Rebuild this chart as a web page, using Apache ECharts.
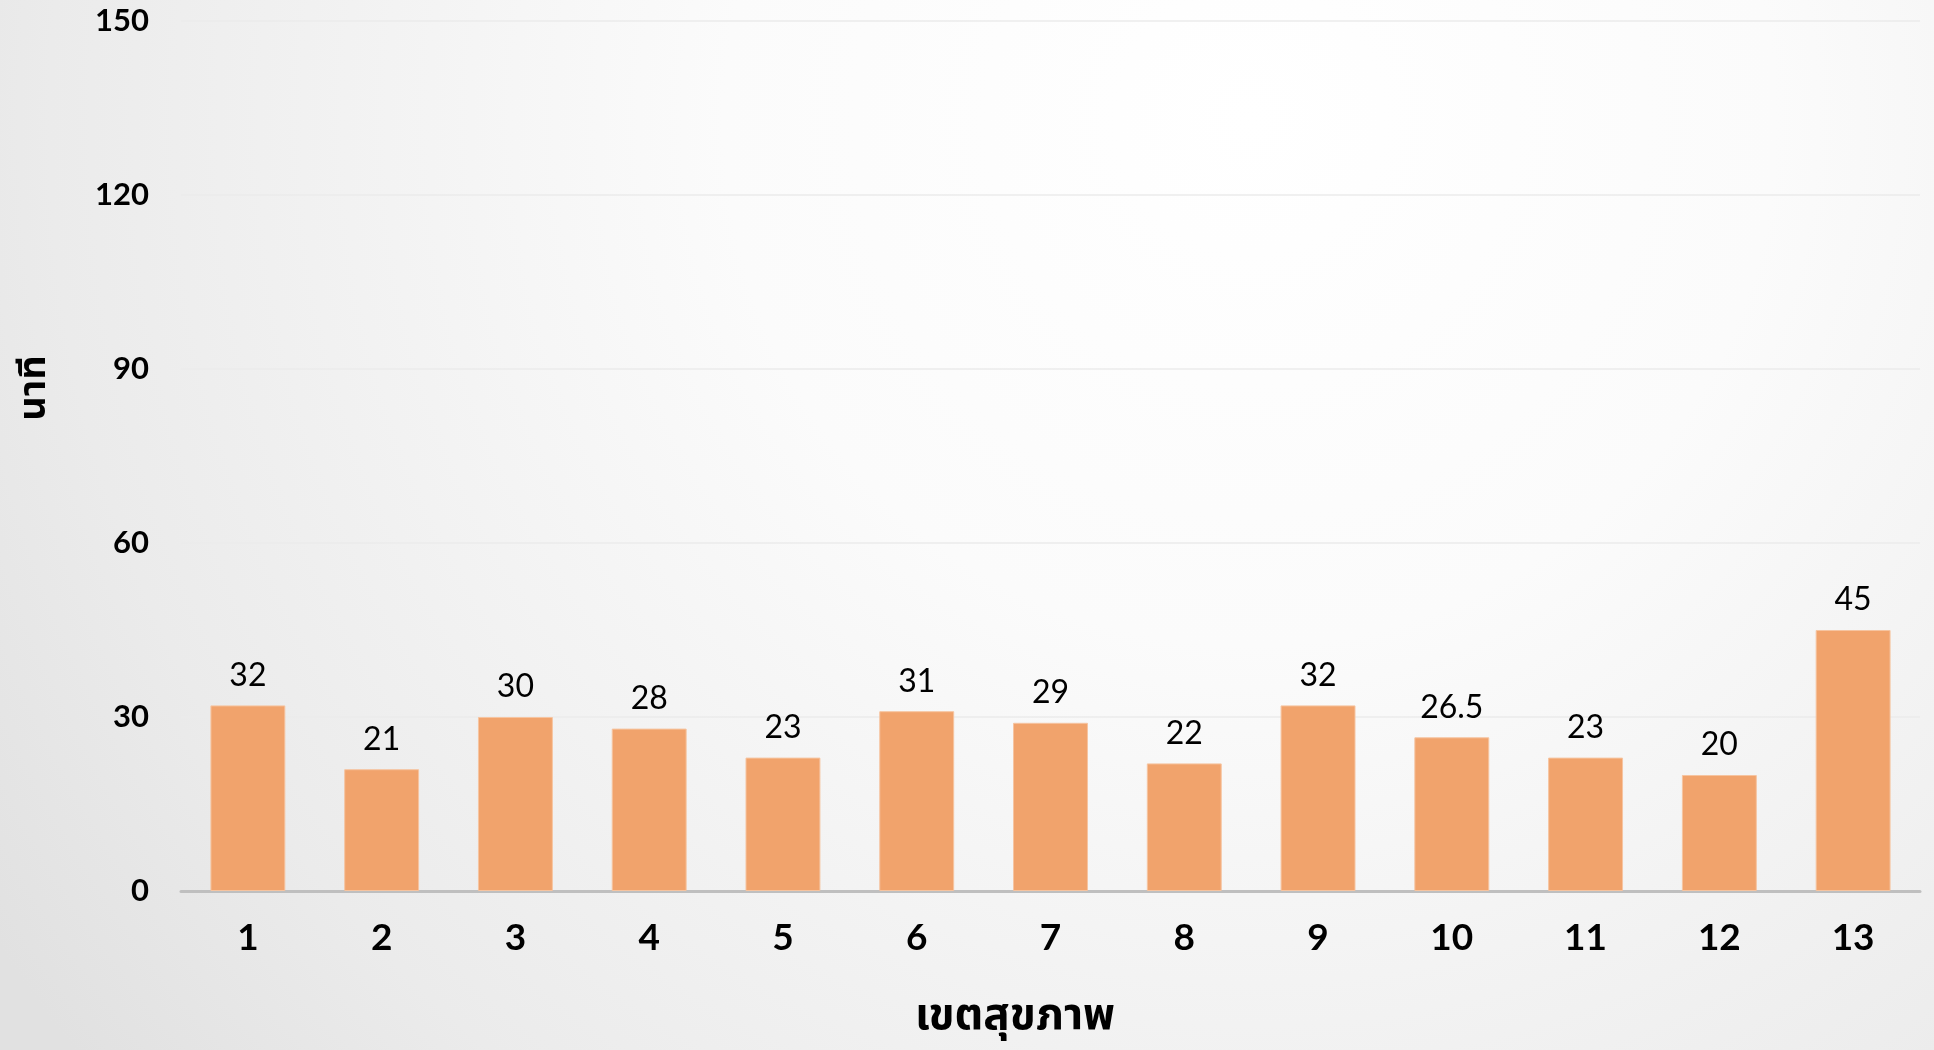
<!DOCTYPE html>
<html>
<head>
<meta charset="utf-8">
<script src="https://cdn.jsdelivr.net/npm/echarts@6/dist/echarts.min.js"></script>
<style>
html,body{margin:0;padding:0;width:1934px;height:1050px;overflow:hidden;}
#c{width:1934px;height:1050px;}
</style>
</head>
<body>
<div id="c"></div>
<script>
const categories = ['1','2','3','4','5','6','7','8','9','10','11','12','13'];
const values = [32, 21, 30, 28, 23, 31, 29, 22, 32, 26.5, 23, 20, 45];
const yTicks = [0, 30, 60, 90, 120, 150];
const xAxisTitle = 'เขตสุขภาพ';
const yAxisTitle = 'นาที';

const FONT = 'Lato, "Noto Sans", "Noto Sans Thai", sans-serif';
const chart = echarts.init(document.getElementById('c'));
chart.setOption({
  backgroundColor: {
    type: 'radial', x: 1250, y: 120, r: 1500, global: true,
    colorStops: [
      {offset: 0, color: '#ffffff'},
      {offset: 0.35, color: '#fbfbfb'},
      {offset: 0.8, color: '#ebebeb'},
      {offset: 1, color: '#e1e1e1'}
    ]
  },
  animation: false,
  grid: {left: 181, right: 14, top: 21, bottom: 159, containLabel: false},
  title: {
    text: xAxisTitle,
    left: 1010, top: 988, textAlign: 'center',
    textStyle: {fontFamily: FONT, fontSize: 44, fontWeight: 'bold', color: '#000'}
  },
  graphic: [{
    type: 'text',
    x: 33, y: 388,
    rotation: Math.PI / 2,
    style: {
      text: yAxisTitle, fontFamily: FONT, fontSize: 38, fontWeight: 'bold',
      fill: '#000', align: 'center', verticalAlign: 'middle'
    }
  }],
  xAxis: {
    type: 'category',
    data: categories,
    axisLine: {show: true, lineStyle: {color: '#bfbfbf', width: 3}},
    axisTick: {show: false},
    axisLabel: {fontFamily: FONT, fontSize: 37, fontWeight: 'bold', color: '#000', margin: 29}
  },
  yAxis: {
    type: 'value',
    min: yTicks[0], max: yTicks[yTicks.length - 1], interval: 30,
    axisLine: {show: false},
    axisTick: {show: false},
    splitLine: {lineStyle: {color: '#ebebeb', width: 1.5}},
    axisLabel: {fontFamily: FONT, fontSize: 31, fontWeight: 'bold', color: '#000', margin: 32}
  },
  series: [{
    type: 'bar',
    data: values,
    barWidth: '56%',
    itemStyle: {color: '#F1A36C', borderColor: '#F6C4A0', borderWidth: 1},
    label: {
      show: true, position: 'top', distance: 14,
      fontFamily: FONT, fontSize: 32, fontWeight: 'normal', color: '#000'
    }
  }]
});
</script>
</body>
</html>
